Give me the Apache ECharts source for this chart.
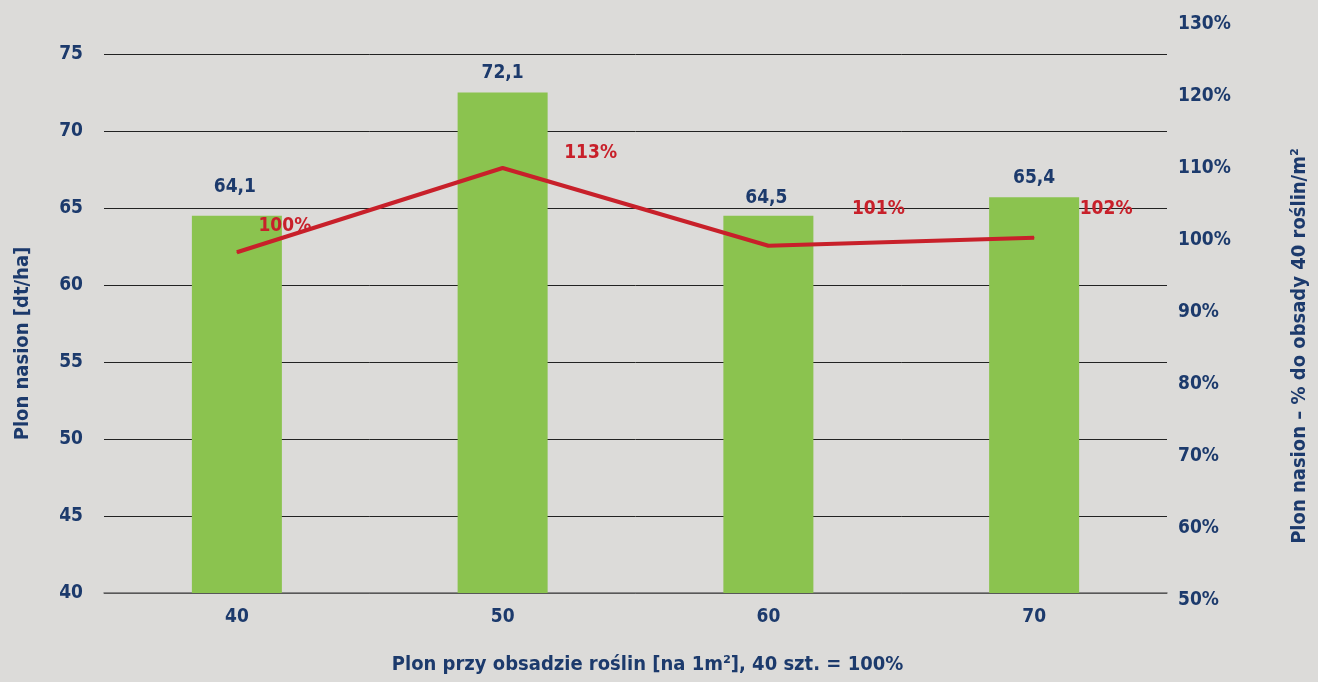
<!DOCTYPE html>
<html lang="pl">
  <head>
    <meta charset="UTF-8" />
    <title>Plon nasion</title>
    <script src="https://cdn.jsdelivr.net/npm/echarts@6/dist/echarts.min.js"></script>
    <style>
      html, body { margin: 0; padding: 0; background: #dcdbd9; }
      #box { width: 1318px; height: 682px; }
    </style>
  </head>
  <body>
    <div id="box"></div>
    <script>
      // obsada roślin [szt./m2]
      var categories = ["40", "50", "60", "70"];
      // wysokość słupków
      var barValues = [64.5, 72.5, 64.5, 65.7];
      // opisy słupków
      var barLabels = ["64,1", "72,1", "64,5", "65,4"];
      // linia: % do obsady 40
      var lineValues = [98.3, 110, 99.2, 100.3];
      var lineLabels = ["100%", "113%", "101%", "102%"];

      var navy = "#1c3a6c";
      var red = "#c8202a";
      var font = "'Liberation Sans Narrow', 'DejaVu Sans Condensed', sans-serif";
      var labelOffsets = [[48, -26], [88, -15], [110, -37], [72, -29]];
      var barLabelOffsets = [[-2, -9], [0, 0], [-2, 2], [0, 0]];

      var myChart = echarts.init(document.getElementById("box"));
      var option = {
        backgroundColor: "#dcdbd9",
        textStyle: { fontFamily: font, fontWeight: "bold", color: navy },
        grid: [
          { left: 104, right: 151, top: 54, bottom: 89 },
          { left: 104, right: 151, top: 24, bottom: 82 },
        ],
        xAxis: [
          {
            type: "category",
            gridIndex: 0,
            data: categories,
            axisTick: { show: false },
            axisLine: { lineStyle: { color: "#6b6b6b", width: 1.5 } },
            axisLabel: { color: navy, fontSize: 19, fontWeight: "bold", fontFamily: font, margin: 15 },
            name: "Plon przy obsadzie roślin [na 1m²], 40 szt. = 100%",
            nameLocation: "middle",
            nameGap: 62,
            nameTextStyle: {
              color: navy, fontSize: 20, fontWeight: "bold", fontFamily: font,
              padding: [0, 0, 0, 24],
            },
          },
          {
            type: "category",
            gridIndex: 1,
            data: categories,
            show: false,
          },
        ],
        yAxis: [
          {
            type: "value",
            gridIndex: 0,
            min: 40,
            max: 75,
            interval: 5,
            axisLine: { show: false },
            axisTick: { show: false },
            splitLine: { show: true, lineStyle: { color: "#222", width: 1 } },
            axisLabel: { color: navy, fontSize: 19, fontWeight: "bold", fontFamily: font, margin: 21 },
            name: "Plon nasion [dt/ha]",
            nameLocation: "middle",
            nameGap: 71,
            nameTextStyle: {
              color: navy, fontSize: 20, fontWeight: "bold", fontFamily: font,
              padding: [0, 40, 0, 0],
            },
          },
          {
            type: "value",
            gridIndex: 1,
            position: "right",
            min: 50,
            max: 130,
            interval: 10,
            axisLine: { show: false },
            axisTick: { show: false },
            splitLine: { show: false },
            axisLabel: {
              color: navy, fontSize: 19, fontWeight: "bold", fontFamily: font, margin: 11,
              formatter: "{value}%",
            },
            name: "Plon nasion – % do obsady 40 roślin/m²",
            nameLocation: "middle",
            nameGap: 123,
            nameRotate: 90,
            nameTextStyle: {
              color: navy, fontSize: 20, fontWeight: "bold", fontFamily: font,
              padding: [0, 68, 0, 0],
            },
          },
        ],
        series: [
          {
            type: "bar",
            xAxisIndex: 0,
            yAxisIndex: 0,
            data: barValues.map(function (v, i) {
              return { value: v, label: { offset: barLabelOffsets[i] } };
            }),
            barWidth: 90,
            itemStyle: { color: "#8bc34f" },
            label: {
              show: true,
              position: "top",
              distance: 10,
              color: navy,
              fontSize: 19,
              fontWeight: "bold",
              fontFamily: font,
              formatter: function (p) { return barLabels[p.dataIndex]; },
            },
          },
          {
            type: "line",
            xAxisIndex: 1,
            yAxisIndex: 1,
            data: lineValues.map(function (v, i) {
              return { value: v, label: { offset: labelOffsets[i] } };
            }),
            symbol: "circle",
            symbolSize: 1,
            lineStyle: { color: red, width: 4 },
            itemStyle: { color: red },
            label: {
              show: true,
              position: "inside",
              color: red,
              fontSize: 19,
              fontWeight: "bold",
              fontFamily: font,
              formatter: function (p) { return lineLabels[p.dataIndex]; },
            },
          },
        ],
      };
      myChart.setOption(option);
    </script>
  </body>
</html>
